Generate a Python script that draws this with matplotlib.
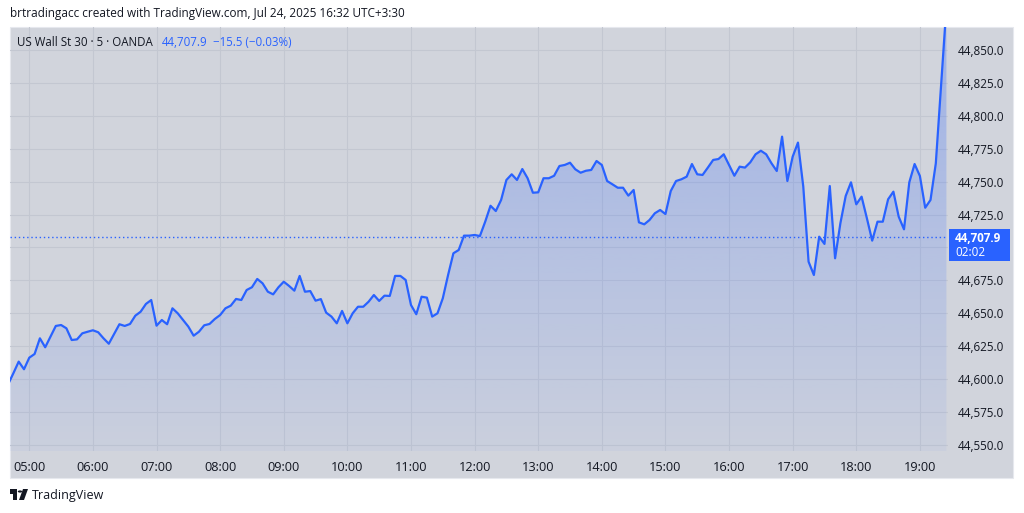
import matplotlib
matplotlib.use("Agg")
import matplotlib.pyplot as plt
import numpy as np
import pandas as pd
from matplotlib.patches import Rectangle, Polygon
from matplotlib.colors import to_rgb

# ---------------- data ----------------
start_time = "2025-07-24 04:40"
prices = [
    44596.0, 44604.5, 44613.3, 44607.5, 44616.3, 44619.1, 44631.0, 44624.2, 44632.3, 44640.4,
    44641.1, 44638.6, 44629.7, 44630.2, 44634.8, 44636.0, 44637.1, 44635.6, 44631.0, 44626.9,
    44634.3, 44641.7, 44640.4, 44641.9, 44648.2, 44651.2, 44657.1, 44660.1, 44640.6, 44644.9,
    44641.7, 44653.8, 44650.0, 44644.9, 44639.9, 44633.0, 44636.0, 44640.9, 44641.9, 44645.7,
    44648.7, 44653.8, 44655.8, 44660.9, 44660.1, 44667.7, 44669.8, 44676.1, 44672.8, 44666.4,
    44664.4, 44669.8, 44674.0, 44670.8, 44667.2, 44678.4, 44666.4, 44666.9, 44659.6, 44660.8,
    44650.5, 44647.5, 44642.4, 44651.8, 44642.4, 44650.0, 44655.0, 44655.0, 44658.8, 44663.9,
    44659.4, 44663.4, 44663.2, 44678.4, 44678.4, 44675.3, 44656.3, 44649.3, 44662.6, 44661.9,
    44647.5, 44650.0, 44661.4, 44679.1, 44695.6, 44698.1, 44709.0, 44709.0, 44709.5, 44708.7,
    44719.6, 44731.7, 44727.7, 44736.1, 44751.3, 44755.6, 44751.3, 44759.6, 44752.6, 44741.6,
    44741.9, 44752.6, 44752.6, 44754.5, 44761.9, 44762.7, 44764.4, 44759.4, 44756.8, 44758.3,
    44758.9, 44765.7, 44762.7, 44750.5, 44748.0, 44745.4, 44745.4, 44739.4, 44743.7, 44719.1,
    44717.6, 44720.9, 44726.0, 44728.5, 44725.4, 44742.9, 44750.5, 44751.8, 44753.8, 44763.4,
    44755.6, 44755.1, 44760.7, 44766.5, 44767.2, 44770.8, 44762.7, 44754.5, 44761.4, 44760.7,
    44764.7, 44770.8, 44773.5, 44770.8, 44764.0, 44758.1, 44784.2, 44750.5, 44769.0, 44779.7,
    44746.3, 44689.2, 44679.1, 44708.2, 44702.7, 44746.7, 44691.8, 44718.4, 44739.1, 44749.5,
    44732.8, 44738.6, 44722.2, 44705.2, 44719.6, 44719.6, 44736.6, 44742.4, 44723.4, 44713.8,
    44749.5, 44763.4, 44754.3, 44730.2, 44736.1, 44763.9, 44823.0, 44883.0,
]
price_ticks = [44550, 44575, 44600, 44625, 44650, 44675, 44725, 44750, 44775, 44800, 44825, 44850]
grid_levels = [44550, 44575, 44600, 44625, 44650, 44675, 44700, 44725, 44750, 44775, 44800, 44825, 44850]
last_price = 44707.9
last_price_text = "44,707.9"
change_text = "\u221215.5 (\u22120.03%)"
countdown_text = "02:02"
symbol_text = "US Wall St 30 \u00b7 5 \u00b7 OANDA"
credit_text = "brtradingacc created with TradingView.com, Jul 24, 2025 16:32 UTC+3:30"
brand_text = "TradingView"

# ---------------- style ----------------
W, H = 1024, 513
BG_PANEL = "#D1D4DC"
GRID = "#C3C7D1"
BLUE = "#2962FF"
TEXT = "#131722"
FONT = "Open Sans"

plt.rcParams["font.family"] = [FONT, "DejaVu Sans"]

fig = plt.figure(figsize=(W / 100, H / 100), dpi=100)
fig.patch.set_facecolor("white")


def fx(px):
    return px / W


def fy(py):
    return 1 - py / H


# panel background
fig.add_artist(Rectangle((fx(10), fy(478)), fx(1013) - fx(10), fy(27) - fy(478),
                         transform=fig.transFigure, facecolor=BG_PANEL,
                         edgecolor="#E6E8EE", lw=0.8, zorder=-5))

ax = fig.add_axes([fx(10), fy(451), fx(948) - fx(10), fy(27) - fy(451)])
ax.set_facecolor("none")
ax.set_zorder(1)

times = pd.date_range(start_time, periods=len(prices), freq="5min")
x = np.arange(len(prices))
y = np.array(prices)

xlim = (0.36, 177.3)
ylim = (44545.4, 44867.5)

# gradient fill under the line
n = 256
rgba = np.zeros((n, 1, 4))
rgba[..., :3] = to_rgb(BLUE)
rgba[:, 0, 3] = np.linspace(0.30, 0.04, n)
im = ax.imshow(rgba, extent=[xlim[0], xlim[1], ylim[0], ylim[1]], aspect="auto",
               origin="upper", zorder=1, interpolation="bilinear")
poly = Polygon(np.column_stack([np.r_[x[0], x, x[-1]], np.r_[ylim[0], y, ylim[0]]]),
               closed=True, facecolor="none", edgecolor="none", transform=ax.transData)
ax.add_patch(poly)
im.set_clip_path(poly)

ax.plot(x, y, color=BLUE, lw=1.6, zorder=3, solid_joinstyle="round")
ax.axhline(last_price, color=BLUE, lw=1.0, ls=(0, (1, 2)), zorder=2)

ax.set_xlim(*xlim)
ax.set_ylim(*ylim)

# grid
hour_mask = times.minute == 0
hour_pos = x[hour_mask]
hour_labels = times[hour_mask].strftime("%H:%M")
for hp in hour_pos:
    ax.axvline(hp, color=GRID, lw=0.8, zorder=0.5)
for gl in grid_levels:
    ax.axhline(gl, color=GRID, lw=0.8, zorder=0.5)

ax.set_xticks(hour_pos)
ax.set_xticklabels(hour_labels)
ax.yaxis.tick_right()
ax.set_yticks(price_ticks)
ax.set_yticklabels([f"{v:,.1f}" for v in price_ticks])
ax.tick_params(axis="x", length=0, pad=7.5, labelsize=9.2, labelcolor=TEXT)
ax.tick_params(axis="y", length=0, pad=7, labelsize=8.4, labelcolor=TEXT)
for s in ax.spines.values():
    s.set_visible(False)

# last price label on the price scale
fig.add_artist(Rectangle((fx(949), fy(261)), fx(1010) - fx(949), fy(229) - fy(261),
                         transform=fig.transFigure, facecolor=BLUE, edgecolor="none", zorder=5))
fig.text(fx(955), fy(238), last_price_text, color="white", fontsize=8.4, fontweight="bold",
         ha="left", va="center", zorder=6)
fig.text(fx(955), fy(253), countdown_text, color="white", fontsize=8.4,
         ha="left", va="center", zorder=6)

# legend text in the top-left
fig.text(fx(17), fy(42), symbol_text, color=TEXT, fontsize=8.3, ha="left", va="center", zorder=6)
fig.text(fx(162), fy(42), last_price_text, color=BLUE, fontsize=8.3, ha="left", va="center", zorder=6)
fig.text(fx(213), fy(42), change_text, color=BLUE, fontsize=8.3, ha="left", va="center", zorder=6)

# credit line
fig.text(fx(10), fy(14), credit_text, color=TEXT, fontsize=8.5, ha="left", va="center")

# TradingView logo + name
logo_col = "#131722"
fig.add_artist(Rectangle((fx(10), fy(494)), fx(17) - fx(10), fy(489) - fy(494),
                         transform=fig.transFigure, facecolor=logo_col, edgecolor="none"))
fig.add_artist(Rectangle((fx(13), fy(500)), fx(17) - fx(13), fy(494) - fy(500),
                         transform=fig.transFigure, facecolor=logo_col, edgecolor="none"))
fig.add_artist(plt.Circle((fx(20), fy(491.5)), 2.2 / W, transform=fig.transFigure,
                          facecolor=logo_col, edgecolor="none"))
fig.add_artist(Polygon([(fx(23), fy(489)), (fx(28), fy(489)), (fx(24), fy(500)), (fx(19), fy(500))],
                       closed=True, transform=fig.transFigure, facecolor=logo_col, edgecolor="none"))
fig.text(fx(32), fy(495), brand_text, color=TEXT, fontsize=9, ha="left", va="center")

fig.savefig("out.png", dpi=100, facecolor="white")
